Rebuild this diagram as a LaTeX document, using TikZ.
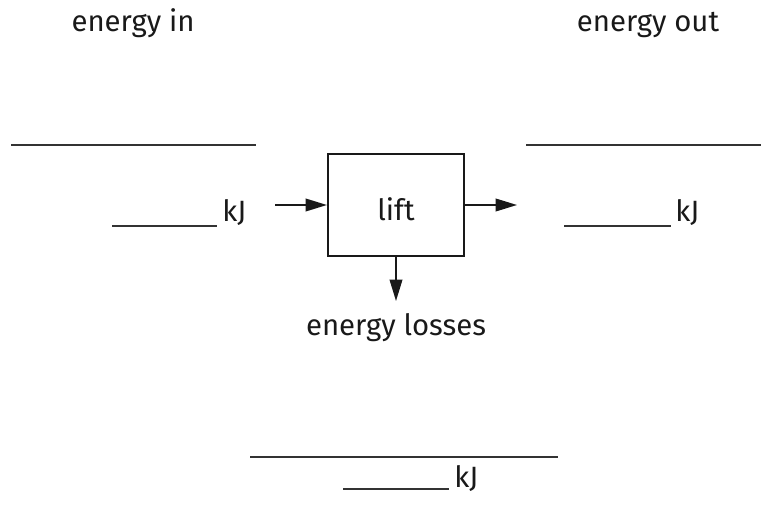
\documentclass[tikz,border=0pt]{standalone}
\usepackage{fontspec}
\setmainfont{Fira Sans}
\usetikzlibrary{positioning, arrows.meta}

\begin{document}
\begin{tikzpicture}[
    x=0.75pt, y=-0.75pt,
    txt/.style={font=\fontsize{22}{26}\selectfont, text=black!90, inner sep=0pt},
    answer/.style={line width=1.1pt, draw=black!80},
    flow/.style={-{Triangle[length=16pt, width=9.5pt]}, line width=1.2pt, draw=black!90},
    process/.style={rectangle, draw=black!90, line width=1.6pt, minimum width=102pt, minimum height=76.5pt, text height=23pt, font=\fontsize{22}{26}\selectfont, text=black!90}
]
\useasboundingbox (0,0) rectangle (761,524);

% headings
\node[txt, anchor=base] (ein) at (133,32) {energy in};
\node[txt, anchor=base] (eout) at (648,32) {energy out};

% the machine
\node[process] (lift) at (396,205) {lift};
\node[txt, anchor=base] (eloss) at (396,335) {energy losses};

% kJ labels
\node[txt, anchor=base west] (kjin) at (222,222) {kJ};
\node[txt, anchor=base west] (kjout) at (675,222) {kJ};
\node[txt, anchor=base west] (kjloss) at (454,487) {kJ};

% answer lines
\draw[answer] (11,145) -- (256,145);
\draw[answer] (526,145) -- (761,145);
\draw[answer] (250,457) -- (558,457);
\draw[answer] (112,226) -- (217,226);
\draw[answer] (564,226) -- (671,226);
\draw[answer] (343,489) -- (449,489);

% arrows
\coordinate (inflow) at (275,205);
\coordinate (outflow) at (517,205);
\coordinate (lossflow) at (396,301);
\draw[flow] (inflow) -- (lift.west);
\draw[flow] (lift.east) -- (outflow);
\draw[flow] (lift.south) -- (lossflow);

\end{tikzpicture}
\end{document}
